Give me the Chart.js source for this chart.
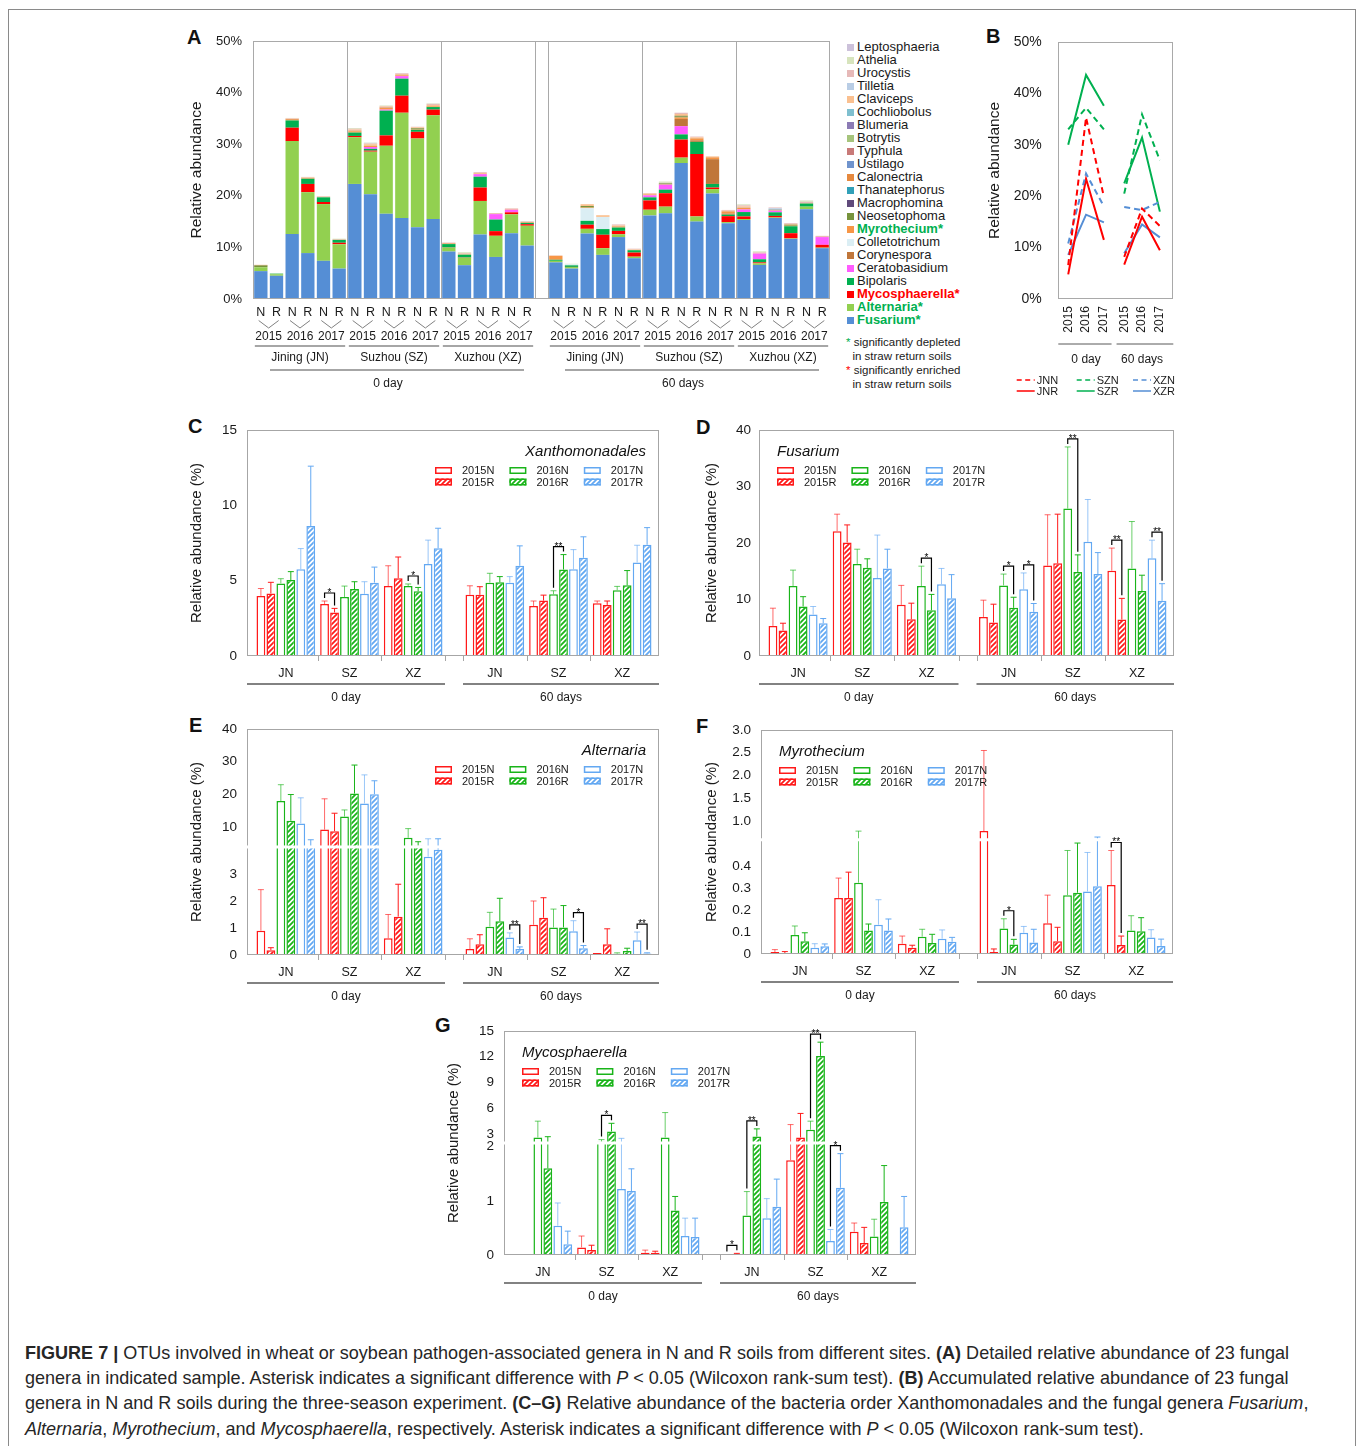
<!DOCTYPE html>
<html>
<head>
<meta charset="utf-8">
<title>Figure 7</title>
<script src="https://cdn.jsdelivr.net/npm/chart.js@4.4.1/dist/chart.umd.min.js"></script>
<style>
  html, body { margin: 0; padding: 0; background: #fff; }
  body { width: 1358px; height: 1446px; position: relative; overflow: hidden;
         font-family: "Liberation Sans", Arial, sans-serif; color: #1a1a1a; }
  canvas { position: absolute; }
  .frame { position: absolute; left: 8px; top: 9px; width: 1348px; height: 1500px; box-sizing: border-box; border: 1px solid #8a8a8a; }
  .letter { position: absolute; font-size: 20px; font-weight: bold; line-height: 20px; color: #111; }
  #legendA { position: absolute; left: 847px; top: 39.5px; font-size: 13px; line-height: 13px; }
  #legendA div { height: 13px; white-space: nowrap; }
  #legendA i { display: inline-block; width: 7px; height: 7px; margin-right: 3px; }
  .note { position: absolute; left: 846px; top: 335px; font-size: 11.5px; line-height: 14px; white-space: nowrap; }
  .caption { position: absolute; left: 25px; top: 1340px; font-size: 19px; line-height: 25.2px; color: #262626; }
  .caption div { white-space: nowrap; width: max-content; transform-origin: 0 50%; }
</style>
</head>
<body>
<div class="frame"></div>

<div class="letter" style="left:187px;top:27px">A</div>
<div class="letter" style="left:986px;top:26px">B</div>
<div class="letter" style="left:188px;top:416px">C</div>
<div class="letter" style="left:696px;top:417px">D</div>
<div class="letter" style="left:189px;top:715px">E</div>
<div class="letter" style="left:696px;top:716px">F</div>
<div class="letter" style="left:435px;top:1015px">G</div>

<canvas id="chartA" width="660" height="375" style="left:180px;top:25px"></canvas>
<canvas id="chartB" width="200" height="375" style="left:980px;top:25px"></canvas>
<canvas id="chartC" width="493" height="310" style="left:176px;top:410px"></canvas>
<canvas id="chartD" width="496" height="310" style="left:688px;top:410px"></canvas>
<canvas id="chartE" width="493" height="310" style="left:176px;top:709px"></canvas>
<canvas id="chartF" width="493" height="308" style="left:690px;top:710px"></canvas>
<canvas id="chartG" width="493" height="308" style="left:433px;top:1011px"></canvas>

<div id="legendA"></div>
<div class="note">
  <span style="color:#00b050">*</span> significantly depleted<br>
  &nbsp;&nbsp;in straw return soils<br>
  <span style="color:#ff0000">*</span> significantly enriched<br>
  &nbsp;&nbsp;in straw return soils
</div>

<div class="caption">
  <div><b>FIGURE 7 |</b> OTUs involved in wheat or soybean pathogen-associated genera in N and R soils from different sites. <b>(A)</b> Detailed relative abundance of 23 fungal</div>
  <div>genera in indicated sample. Asterisk indicates a significant difference with <i>P</i> &lt; 0.05 (Wilcoxon rank-sum test). <b>(B)</b> Accumulated relative abundance of 23 fungal</div>
  <div>genera in N and R soils during the three-season experiment. <b>(C–G)</b> Relative abundance of the bacteria order Xanthomonadales and the fungal genera <i>Fusarium</i>,</div>
  <div><i>Alternaria</i>, <i>Myrothecium</i>, and <i>Mycosphaerella</i>, respectively. Asterisk indicates a significant difference with <i>P</i> &lt; 0.05 (Wilcoxon rank-sum test).</div>
</div>

<script>
// ---------- shared labels ----------
const days = ['0 day', '60 days'];
const sitesLong = ['Jining (JN)', 'Suzhou (SZ)', 'Xuzhou (XZ)'];
const sitesShort = ['JN', 'SZ', 'XZ'];
const years = ['2015', '2016', '2017'];
const treatments = ['N', 'R'];
const pctTicks = [0, 10, 20, 30, 40, 50];

// ---------- panel A: 36 samples (0 day then 60 days; JN, SZ, XZ; 2015-2017; N, R) ----------
const fusarium = [5.4,4.5,12.6,8.9,7.4,5.9, 22.3,20.3,16.5,15.7,13.9,15.5, 9.2,6.55,12.5,8.15,12.75,10.35,
                  7.1,5.9,12.7,8.55,12.0,7.9, 16.2,16.6,26.35,15.0,20.45,14.7, 15.3,6.6,15.7,11.65,17.4,9.85];
const alternaria = [0.75,0.3,18.0,11.8,11.0,4.7, 9.05,8.25,13.2,20.4,17.2,20.1, 0.75,1.45,6.5,4.1,3.65,3.85,
                    0.3,0.3,0.9,1.3,0.55,0.3, 1.1,1.3,1.05,1.0,0.85,0.2, 0.2,0.3,0.1,0.1,0.5,0.1];
const mycosphaerella = [0,0,2.6,1.6,0.4,0.3, 0.25,0.2,2.0,3.3,1.3,1.1, 0.04,0.04,2.6,0.9,0.4,0.3,
                        0,0.02,0.8,2.6,0.65,0.8, 1.8,2.6,3.5,12.1,0.3,1.15, 0.5,0.2,0.3,1.0,0,0.55];
const bipolaris = [0,0.1,1.4,1.0,0.9,0.55, 0.65,0.35,4.8,3.3,0.4,0.5, 0.65,0.55,2.1,2.25,0,0.25,
                   0.2,0.3,0.75,1.1,0.65,0.45, 0.6,0.7,1.0,2.35,0.7,0.3, 0.85,0.6,0.7,1.35,0.6,0];
const ceratobasidium = [0,0,0,0,0,0, 0,0.35,0.2,0.5,0,0, 0,0,0.5,1.05,0.5,0,
                        0,0,0,0,0,0, 0.4,0.95,1.6,0,0,0, 0.5,1.1,0.3,0,0,1.5];
const corynespora = [0,0,0,0,0,0, 0,0,0,0,0,0, 0,0,0,0,0,0,
                     0,0,0,0,0,0, 0,0,1.4,0.3,4.8,0.2, 0,0,0,0,0,0];
const colletotrichum = [0,0,0,0,0,0, 0,0,0,0,0,0, 0,0,0,0,0,0,
                        0,0.2,2.45,2.35,0,0, 0,0,0,0,0,0, 0,0,0,0,0,0];
const myrothecium = [0.01,0,0.09,0.06,0.03,0.04, 0.26,0.26,0.33,0.11,0.13,0.11, 0.05,0.03,0.08,0.05,0.07,0.06,
                     0.78,0.01,0.12,0.04,0.1,0.05, 0.14,0.06,0.27,0.28,0.29,0.31, 0.32,0.04,0.11,0.1,0.08,0.04];
const neosetophoma = [0.35,0,0,0,0,0, 0,0,0,0,0.15,0, 0,0,0,0,0,0,
                      0,0,0.3,0,0,0, 0,0.2,0.25,0,0,0, 0,0,0,0.2,0,0];
const macrophomina = [0,0,0,0,0,0, 0,0,0.03,0,0,0, 0,0,0,0,0,0,
                      0,0,0,0,0,0, 0,0,0.05,0,0,0, 0,0,0,0,0,0];
const thanatephorus = [0,0,0,0,0,0, 0,0,0,0,0,0, 0,0,0,0,0,0,
                       0,0,0,0,0,0, 0,0,0,0,0,0, 0,0,0.1,0,0,0];
const calonectria = [0.1,0,0.15,0.1,0,0, 0.1,0,0.05,0.1,0.05,0.1, 0.1,0,0,0,0,0.1,
                     0,0,0,0,0.1,0, 0.05,0,0.1,0.1,0.1,0.1, 0,0,0,0,0,0];
const ustilago = [0,0,0,0,0,0, 0.03,0,0,0,0,0, 0,0,0,0,0,0,
                  0,0,0,0,0,0, 0,0,0,0,0,0, 0.03,0,0,0,0,0];
const typhula = [0,0,0,0,0,0, 0,0,0,0.03,0,0, 0,0,0,0,0,0,
                 0,0,0,0,0,0, 0,0,0,0,0,0, 0,0,0,0,0,0];
const botrytis = [0,0,0,0,0,0, 0,0.03,0,0,0,0, 0,0,0,0,0,0,
                  0,0,0,0,0,0, 0,0,0.05,0,0,0, 0,0,0,0,0,0];
const blumeria = [0,0,0,0,0,0, 0,0,0,0,0,0, 0,0,0,0,0,0,
                  0,0,0,0,0,0, 0,0,0,0,0,0, 0,0,0.03,0,0,0];
const cochliobolus = [0,0,0,0,0,0, 0,0,0,0,0,0, 0,0,0,0,0,0,
                      0,0,0,0,0,0, 0,0,0.03,0,0,0, 0,0,0,0,0,0];
const claviceps = [0,0,0.1,0.1,0.1,0, 0.2,0.25,0.2,0.15,0.15,0.2, 0,0.15,0.15,0,0.1,0,
                   0,0,0.35,0.3,0.2,0.1, 0.15,0,0.2,0.2,0.15,0.15, 0.25,0,0.1,0.15,0,0];
const tilletia = [0,0,0,0,0,0, 0,0,0,0,0,0, 0,0,0,0,0,0,
                  0,0,0,0,0,0, 0,0,0,0,0,0, 0,0,0.15,0,0,0];
const urocystis = [0,0,0.1,0.1,0.1,0.1, 0.15,0.15,0.1,0.15,0.1,0.2, 0.15,0.15,0.15,0.15,0.1,0.1,
                   0.05,0,0,0,0.2,0.15, 0.1,0.1,0.25,0.15,0,0.15, 0.2,0.2,0.15,0.15,0.25,0.2];
const athelia = [0,0.1,0.05,0,0,0.1, 0.15,0.15,0.1,0,0,0.1, 0,0.15,0,0,0,0.1,
                 0,0.1,0,0,0,0, 0,0.25,0,0,0,0, 0.2,0.2,0,0,0.25,0];
const leptosphaeria = [0,0,0,0,0,0, 0,0.03,0,0,0,0, 0,0,0,0,0,0,
                       0,0,0,0,0,0, 0,0,0,0,0,0, 0,0,0,0,0.03,0];

// stacking order, bottom to top
const generaA = ['Fusarium','Alternaria','Mycosphaerella','Bipolaris','Ceratobasidium','Corynespora',
  'Colletotrichum','Myrothecium','Neosetophoma','Macrophomina','Thanatephorus','Calonectria','Ustilago',
  'Typhula','Botrytis','Blumeria','Cochliobolus','Claviceps','Tilletia','Urocystis','Athelia','Leptosphaeria'];
const valuesA = [fusarium, alternaria, mycosphaerella, bipolaris, ceratobasidium, corynespora,
  colletotrichum, myrothecium, neosetophoma, macrophomina, thanatephorus, calonectria, ustilago,
  typhula, botrytis, blumeria, cochliobolus, claviceps, tilletia, urocystis, athelia, leptosphaeria];
const colorsA = ['#558ed5','#92d050','#ff0000','#00b050','#ff5cff','#c0763a',
  '#dbeef4','#f79646','#77933c','#604a7b','#31a0b8','#e6893e','#7094cd',
  '#c87a78','#a6c47c','#8c7bb5','#7fbfcf','#fac090','#b9cde5','#e6b9b8','#d7e4bd','#ccc1da'];
const depletedA = ['Myrothecium', 'Alternaria', 'Fusarium'];
const enrichedA = ['Mycosphaerella'];

// ---------- panel B: accumulated abundance (0 day 2015-2017, 60 days 2015-2017) ----------
const jnnB = [6.6, 35.3, 19.9, 8.2, 17.6, 14.2];
const jnrB = [4.8, 23.4, 11.5, 6.7, 16.0, 9.5];
const sznB = [33.0, 37.2, 33.0, 20.5, 35.9, 27.0];
const szrB = [30.0, 43.6, 37.6, 22.5, 31.4, 17.0];
const xznB = [10.8, 24.4, 18.0, 17.9, 17.3, 18.9];
const xzrB = [8.6, 16.4, 14.9, 8.9, 14.5, 12.0];

// ---------- panels C-G: rows = 2015N, 2015R, 2016N, 2016R, 2017N, 2017R ----------
// columns = 0 day JN, SZ, XZ, 60 days JN, SZ, XZ ; errors are upper whisker ends
const seriesNames = ['2015N', '2015R', '2016N', '2016R', '2017N', '2017R'];

const xanMeans = [[3.99,3.45,4.64,4.06,3.32,3.5],[4.15,2.89,5.16,4.06,3.68,3.39],[4.82,3.92,4.64,4.87,4.1,4.37],
                  [5.04,4.44,4.3,4.89,5.74,4.69],[5.76,4.13,6.1,4.87,5.76,6.21],[8.63,4.87,7.15,5.99,6.52,7.38]];
const xanErrs  = [[4.48,3.65,5.99,4.66,3.65,3.65],[4.89,3.16,6.57,4.6,4.04,3.65],[5.13,4.64,4.78,5.49,4.33,4.62],
                  [5.6,4.93,4.55,5.27,6.73,5.67],[7.13,4.93,7.69,5.27,7.06,7.35],[12.6,5.9,8.48,7.31,7.91,8.52]];
const xanSig = [[1,0,1,'*'],[2,2,3,'*'],[4,2,3,'**']];

const fusMeans = [[5.33,22.1,9.05,6.92,16.0,15.1],[4.5,20.1,6.5,5.92,16.4,6.45],[12.4,16.3,12.4,12.5,26.1,15.5],
                  [8.76,15.6,8.1,8.52,14.85,11.5],[7.34,13.8,12.7,11.8,20.2,17.3],[5.8,15.5,10.2,7.81,14.5,9.76]];
const fusErrs  = [[8.46,25.1,12.5,9.88,25.0,19.1],[5.8,23.2,9.35,9.17,25.1,10.2],[15.2,18.9,15.9,14.5,37.0,23.8],
                  [10.5,17.2,10.9,10.4,17.9,14.3],[8.76,21.4,15.5,14.7,27.7,20.5],[6.63,18.9,14.4,9.29,18.3,12.8]];
const fusSig = [[2,2,3,'*'],[3,2,3,'*'],[3,4,5,'*'],[4,2,3,'**'],[5,0,1,'**'],[5,4,5,'**']];

const altMeans = [[0.9,9.3,0.62,0.22,1.12,0.07],[0.18,8.8,1.42,0.4,1.38,0.4],[18.0,13.3,6.8,1.05,1.02,0.05],
                  [12.0,20.3,4.4,1.25,1.02,0.15],[11.2,17.3,3.64,0.65,0.88,0.55],[4.3,20.1,3.9,0.22,0.25,0.06]];
const altErrs  = [[2.42,18.7,1.5,0.6,2.0,0.08],[0.27,14.3,2.62,0.75,2.12,0.97],[23.0,15.3,9.6,1.58,1.7,0.08],
                  [20.0,29.0,5.6,2.1,1.83,0.25],[19.0,26.0,6.5,0.82,1.27,0.85],[6.2,24.2,6.5,0.3,0.35,0.08]];
const altSig = [[3,4,5,'**'],[4,4,5,'*'],[5,4,5,'**']];

const myrMeans = [[0.009,0.256,0.047,0.78,0.14,0.315],[0.003,0.256,0.029,0.009,0.058,0.041],[0.087,0.326,0.079,0.116,0.269,0.107],
                  [0.058,0.107,0.05,0.043,0.28,0.104],[0.029,0.134,0.07,0.097,0.286,0.075],[0.035,0.107,0.056,0.052,0.31,0.037]];
const myrErrs  = [[0.02,0.347,0.082,2.55,0.269,0.473],[0.011,0.374,0.04,0.023,0.122,0.082],[0.128,0.78,0.113,0.161,0.473,0.175],
                  [0.097,0.137,0.09,0.067,0.507,0.166],[0.047,0.248,0.11,0.126,0.464,0.111],[0.046,0.16,0.076,0.113,0.65,0.068]];
const myrSig = [[3,2,3,'*'],[5,0,1,'**']];

const mycMeans = [[0.005,0.14,0.04,0.005,1.75,0.43],[0.003,0.09,0.04,0.02,2.6,0.22],[2.6,2.1,2.6,0.73,3.5,0.34],
                  [1.6,3.3,0.82,2.7,12.1,0.98],[0.54,1.22,0.35,0.68,0.26,0.01],[0.2,1.18,0.33,0.89,1.24,0.51]];
const mycErrs  = [[0.01,0.35,0.09,0.01,4.1,0.59],[0.005,0.18,0.07,0.03,5.4,0.51],[4.5,2.35,5.5,1.17,4.5,0.66],
                  [2.69,4.25,1.08,3.6,13.7,1.65],[0.96,2.5,0.68,1.04,0.47,0.01],[0.44,1.59,0.68,1.4,1.87,1.08]];
const mycSig = [[1,2,3,'*'],[3,0,1,'*'],[3,2,3,'**'],[4,2,3,'**'],[4,4,5,'*']];

// y tick values and labels
const xanTicks = [0, 5, 10, 15];
const fusTicks = [0, 10, 20, 30, 40];
const altTicks = [0, 1, 2, 3, 10, 20, 30, 40];
const myrTicks = [0, 0.1, 0.2, 0.3, 0.4, 1.0, 1.5, 2.0, 2.5, 3.0];
const mycTicks = [0, 1, 2, 3, 6, 9, 12, 15];

// ---------- styling ----------
const FONT = '"Liberation Sans", Arial, sans-serif';
Chart.defaults.font.family = FONT;
Chart.defaults.color = '#1a1a1a';
const seriesColors = ['#ff1a1a', '#19b419', '#63a8f2'];

// category scale with an extra gap between the two halves (0 day | 60 days)
class GapCategoryScale extends Chart.CategoryScale {
  static id = 'gapcat';
  static defaults = {};
  _inner() {
    const o = this.options;
    return this._length - (o.padL || 0) - (o.padR || 0) - (o.gapPx || 0);
  }
  getPixelForDecimal(d) {
    const o = this.options;
    return this._startPixel + (o.padL || 0) + d * this._inner() + (d > 0.5 + 1e-9 ? (o.gapPx || 0) : 0);
  }
  getDecimalForPixel(p) {
    const o = this.options, inner = this._inner();
    let r = p - this._startPixel - (o.padL || 0);
    if (r > inner / 2 + (o.gapPx || 0)) r -= (o.gapPx || 0);
    else if (r > inner / 2) r = inner / 2;
    return r / inner;
  }
}

// linear scale with a broken (piecewise) axis
class BrokenLinearScale extends Chart.LinearScale {
  static id = 'brokenLinear';
  static defaults = {};
  buildTicks() {
    return this.options.tickValues.map(v => ({ value: v }));
  }
  _frac(v) {
    const segs = this.options.segments;
    let s = segs[0];
    for (const seg of segs) if (v >= seg.v0) s = seg;
    return s.f0 + (v - s.v0) / (s.v1 - s.v0) * (s.f1 - s.f0);
  }
  getPixelForValue(v) {
    return v === null || isNaN(v) ? NaN : this.getPixelForDecimal(this._frac(v));
  }
  getValueForPixel(p) {
    const f = this.getDecimalForPixel(p), segs = this.options.segments;
    let s = segs[0];
    for (const seg of segs) if (f >= seg.f0) s = seg;
    return s.v0 + (f - s.f0) / (s.f1 - s.f0) * (s.v1 - s.v0);
  }
}
Chart.register(GapCategoryScale, BrokenLinearScale);

function hatch(color) {
  const c = document.createElement('canvas');
  c.width = c.height = 5;
  const g = c.getContext('2d');
  g.fillStyle = '#fff';
  g.fillRect(0, 0, 5, 5);
  g.strokeStyle = color;
  g.lineWidth = 1.8;
  g.beginPath();
  g.moveTo(0, 5); g.lineTo(5, 0);
  g.moveTo(-1, 1); g.lineTo(1, -1);
  g.moveTo(4, 6); g.lineTo(6, 4);
  g.stroke();
  return g.createPattern(c, 'repeat');
}

function fade(hex, a) {
  const n = parseInt(hex.slice(1), 16);
  return `rgba(${n >> 16},${(n >> 8) & 255},${n & 255},${a})`;
}

// ---------- panel A ----------
const aDecor = {
  id: 'aDecor',
  afterDatasetsDraw(chart) {
    const { ctx, chartArea: a, scales: { x } } = chart;
    const px = i => x.getPixelForValue(i);
    const half = (px(1) - px(0)) / 2;
    const b = a.bottom;
    ctx.save();
    ctx.strokeStyle = '#a9a9a9';
    ctx.lineWidth = 1;
    ctx.strokeRect(Math.round(a.left) + 0.5, Math.round(a.top) + 0.5, Math.round(a.width) - 1, Math.round(a.height) - 1);
    const vline = xx => {
      ctx.beginPath();
      ctx.moveTo(Math.round(xx) + 0.5, a.top);
      ctx.lineTo(Math.round(xx) + 0.5, a.bottom);
      ctx.stroke();
    };
    [6, 12, 24, 30].forEach(i => vline((px(i - 1) + px(i)) / 2));
    vline(px(17) + half);
    vline(px(18) - half);

    ctx.fillStyle = '#1a1a1a';
    ctx.textAlign = 'center';
    ctx.textBaseline = 'middle';
    ctx.font = '12px ' + FONT;
    for (let p = 0; p < 18; p++) {
      const m = (px(2 * p) + px(2 * p + 1)) / 2;
      ctx.strokeStyle = '#808080';
      ctx.lineWidth = 1;
      ctx.beginPath();
      ctx.moveTo(m - 10, b + 21.5); ctx.lineTo(m, b + 29); ctx.lineTo(m + 10, b + 21.5);
      ctx.stroke();
      ctx.fillText(years[p % 3], m, b + 37.5);
    }
    ctx.strokeStyle = '#a6a6a6';
    ctx.lineWidth = 2;
    for (let s = 0; s < 6; s++) {
      const x0 = px(s * 6), x1 = px(s * 6 + 5);
      ctx.beginPath(); ctx.moveTo(x0 - 6, b + 47); ctx.lineTo(x1 + 6, b + 47); ctx.stroke();
      ctx.fillText(sitesLong[s % 3], (x0 + x1) / 2, b + 59);
    }
    for (let d = 0; d < 2; d++) {
      const c0 = (px(d * 18) + px(d * 18 + 5)) / 2, c2 = (px(d * 18 + 12) + px(d * 18 + 17)) / 2;
      ctx.beginPath(); ctx.moveTo(c0 - 30, b + 71); ctx.lineTo(c2 + 36, b + 71); ctx.stroke();
      ctx.fillText(days[d], (c0 + c2) / 2 - 6, b + 85);
    }
    ctx.restore();
  }
};

const labelsA = [];
days.forEach(() => sitesShort.forEach(() => years.forEach(() => treatments.forEach(t => labelsA.push(t)))));

new Chart(document.getElementById('chartA'), {
  type: 'bar',
  data: {
    labels: labelsA,
    datasets: generaA.map((g, k) => ({
      label: g, data: valuesA[k], backgroundColor: colorsA[k],
      borderWidth: 0, barPercentage: 0.85, categoryPercentage: 1
    }))
  },
  options: {
    responsive: false, animation: false,
    layout: { padding: { left: 0, top: 16, right: 10, bottom: 0 } },
    scales: {
      x: {
        type: 'gapcat', stacked: true, offset: true, gapPx: 13,
        grid: { display: false, drawTicks: false }, border: { display: false },
        ticks: { autoSkip: false, maxRotation: 0, font: { size: 12.5 }, padding: 6.5 },
        afterFit: s => { s.height = 101; s.paddingLeft = 0; s.paddingRight = 0; }
      },
      y: {
        stacked: true, min: 0, max: 50,
        grid: { display: false, drawTicks: false }, border: { display: false },
        afterBuildTicks: s => { s.ticks = pctTicks.map(v => ({ value: v })); },
        ticks: { font: { size: 13 }, padding: 11, callback: v => v + '%' },
        title: { display: true, text: 'Relative abundance', font: { size: 15.5 }, padding: { top: 7.7 } },
        afterFit: s => { s.width = 73; s.paddingTop = 0; s.paddingBottom = 0; }
      }
    },
    plugins: { legend: { display: false }, tooltip: { enabled: false } }
  },
  plugins: [aDecor]
});

// HTML legend for panel A (top = last stacked genus)
const legendA = document.getElementById('legendA');
generaA.slice().reverse().forEach(g => {
  const k = generaA.indexOf(g);
  const row = document.createElement('div');
  const sw = document.createElement('i');
  sw.style.background = colorsA[k];
  row.appendChild(sw);
  const t = document.createElement('span');
  if (depletedA.includes(g) || enrichedA.includes(g)) {
    t.textContent = g + '*';
    t.style.fontWeight = 'bold';
    t.style.color = depletedA.includes(g) ? '#00b050' : '#ff0000';
  } else {
    t.textContent = g;
  }
  row.appendChild(t);
  legendA.appendChild(row);
});

// ---------- panel B ----------
const linesB = [
  { label: 'JNN', data: jnnB, color: '#ff0000', dashed: true },
  { label: 'SZN', data: sznB, color: '#00b050', dashed: true },
  { label: 'XZN', data: xznB, color: '#558ed5', dashed: true },
  { label: 'JNR', data: jnrB, color: '#ff0000', dashed: false },
  { label: 'SZR', data: szrB, color: '#00b050', dashed: false },
  { label: 'XZR', data: xzrB, color: '#558ed5', dashed: false }
];

const bDecor = {
  id: 'bDecor',
  afterDatasetsDraw(chart) {
    const { ctx, chartArea: a, scales: { x } } = chart;
    const px = i => x.getPixelForValue(i);
    const b = a.bottom;
    const mid = (px(2) + px(3)) / 2;
    ctx.save();
    ctx.strokeStyle = '#a9a9a9';
    ctx.lineWidth = 1;
    ctx.strokeRect(Math.round(a.left) + 0.5, Math.round(a.top) + 0.5, Math.round(a.width) - 1, Math.round(a.height) - 1);
    ctx.strokeStyle = '#595959';
    ctx.lineWidth = 1;
    ctx.beginPath(); ctx.moveTo(a.left, b + 45); ctx.lineTo(mid - 2.5, b + 45); ctx.stroke();
    ctx.beginPath(); ctx.moveTo(mid + 2.5, b + 45); ctx.lineTo(a.right, b + 45); ctx.stroke();
    ctx.fillStyle = '#1a1a1a';
    ctx.font = '12px ' + FONT;
    ctx.textAlign = 'center';
    ctx.textBaseline = 'middle';
    ctx.fillText(days[0], px(1), b + 61);
    ctx.fillText(days[1], px(4), b + 61);
    // legend
    ctx.font = '11px ' + FONT;
    ctx.textAlign = 'left';
    const cols = [36.7, 96.7, 153];
    linesB.forEach((s, k) => {
      const cx = cols[k % 3], cy = b + (k < 3 ? 81 : 92);
      ctx.strokeStyle = s.color;
      ctx.lineWidth = 1.5;
      ctx.setLineDash(s.dashed ? [5, 3.5] : []);
      ctx.beginPath(); ctx.moveTo(cx, cy); ctx.lineTo(cx + 18, cy); ctx.stroke();
      ctx.setLineDash([]);
      ctx.fillText(s.label, cx + 20, cy + 0.5);
    });
    ctx.restore();
  }
};

const labelsB = [];
days.forEach(() => years.forEach(y => labelsB.push(y)));

new Chart(document.getElementById('chartB'), {
  type: 'line',
  data: {
    labels: labelsB,
    datasets: linesB.map(s => ({
      label: s.label, data: s.data, borderColor: s.color, borderWidth: 2,
      borderDash: s.dashed ? [6, 4] : [], pointRadius: 0, tension: 0, fill: false,
      segment: { borderColor: c => c.p0DataIndex === 2 ? 'rgba(0,0,0,0)' : undefined }
    }))
  },
  options: {
    responsive: false, animation: false,
    layout: { padding: { left: 0, top: 17, right: 6.7, bottom: 0 } },
    scales: {
      x: {
        type: 'gapcat', offset: true, padL: 1, padR: 4.5, gapPx: 2.5,
        grid: { display: false, drawTicks: false }, border: { display: false },
        ticks: { autoSkip: false, minRotation: 90, maxRotation: 90, font: { size: 12 }, padding: 7 },
        afterFit: s => { s.height = 101; s.paddingLeft = 0; s.paddingRight = 0; }
      },
      y: {
        min: 0, max: 50,
        grid: { display: false, drawTicks: false }, border: { display: false },
        afterBuildTicks: s => { s.ticks = pctTicks.map(v => ({ value: v })); },
        ticks: { font: { size: 14 }, padding: 16.6, callback: v => v + '%' },
        title: { display: true, text: 'Relative abundance', font: { size: 15.5 }, padding: { top: 5.7 } },
        afterFit: s => { s.width = 78.3; s.paddingTop = 0; s.paddingBottom = 0; }
      }
    },
    plugins: { legend: { display: false }, tooltip: { enabled: false } }
  },
  plugins: [bDecor]
});

// ---------- panels C-G ----------
const groupDecor = {
  id: 'groupDecor',
  afterDatasetsDraw(chart, args, o) {
    const { ctx, chartArea: a, scales: { x, y } } = chart;
    const px = i => x.getPixelForValue(i);
    const half = (px(1) - px(0)) / 2;
    const b = a.bottom;
    const dsets = chart.data.datasets;
    ctx.save();
    // error bars (upper whisker)
    dsets.forEach((ds, di) => {
      chart.getDatasetMeta(di).data.forEach((bar, i) => {
        const top = y.getPixelForValue(ds.errHi[i]);
        if (!(top < bar.y - 0.5)) return;
        ctx.strokeStyle = ds.errColor;
        ctx.lineWidth = 1;
        ctx.beginPath();
        ctx.moveTo(bar.x, bar.y); ctx.lineTo(bar.x, top);
        ctx.moveTo(bar.x - 3, top); ctx.lineTo(bar.x + 3, top);
        ctx.stroke();
      });
    });
    // frame
    ctx.strokeStyle = '#a6a6a6';
    ctx.lineWidth = 1;
    ctx.strokeRect(Math.round(a.left) + 0.5, Math.round(a.top) + 0.5, Math.round(a.width) - 1, Math.round(a.height) - 1);
    // axis break
    if (o.breakFrac) {
      const yb = a.bottom - o.breakFrac * a.height;
      ctx.fillStyle = '#fff';
      ctx.fillRect(a.left - 4, yb - 1.5, a.width + 2.5, 3);
    }
    // significance brackets
    ctx.strokeStyle = '#000';
    ctx.fillStyle = '#000';
    ctx.lineWidth = 1.2;
    ctx.font = '10px ' + FONT;
    ctx.textAlign = 'center';
    ctx.textBaseline = 'alphabetic';
    (o.sig || []).forEach(([cat, sa, sb, lab]) => {
      const ba = chart.getDatasetMeta(sa).data[cat], bb = chart.getDatasetMeta(sb).data[cat];
      const ta = y.getPixelForValue(dsets[sa].errHi[cat]), tb = y.getPixelForValue(dsets[sb].errHi[cat]);
      const yb = Math.min(ta, tb) - 8;
      ctx.beginPath();
      ctx.moveTo(ba.x, ta - 3); ctx.lineTo(ba.x, yb); ctx.lineTo(bb.x, yb); ctx.lineTo(bb.x, tb - 3);
      ctx.stroke();
      ctx.fillText(lab, (ba.x + bb.x) / 2, yb + 3);
    });
    // group tick marks
    ctx.strokeStyle = '#a6a6a6';
    ctx.lineWidth = 1;
    [px(0) + half, px(1) + half, px(2) + half, px(3) - half, px(3) + half, px(4) + half].forEach(t => {
      ctx.beginPath();
      ctx.moveTo(Math.round(t) + 0.5, b); ctx.lineTo(Math.round(t) + 0.5, b + 5);
      ctx.stroke();
    });
    // day lines
    ctx.strokeStyle = '#595959';
    ctx.lineWidth = 1.3;
    ctx.fillStyle = '#1a1a1a';
    ctx.font = '12px ' + FONT;
    ctx.textBaseline = 'middle';
    [[a.left, px(2) + half], [px(3) - half, a.right]].forEach(([l, r], d) => {
      ctx.beginPath(); ctx.moveTo(l, b + 28); ctx.lineTo(r, b + 28); ctx.stroke();
      ctx.fillText(days[d], (l + r) / 2, b + 42);
    });
    // title and legend
    const x0 = o.side === 'right' ? a.right - 224 : a.left + 18;
    ctx.font = 'italic 15px ' + FONT;
    ctx.fillStyle = '#111';
    ctx.textBaseline = 'alphabetic';
    ctx.textAlign = o.side === 'right' ? 'right' : 'left';
    ctx.fillText(o.title, o.side === 'right' ? a.right - 13 : x0, a.top + 26);
    ctx.font = '11px ' + FONT;
    ctx.textAlign = 'left';
    ctx.textBaseline = 'middle';
    dsets.forEach((ds, k) => {
      const bx = x0 + Math.floor(k / 2) * 74.4, by = a.top + 40.5 + (k % 2) * 11.5;
      ctx.fillStyle = ds.backgroundColor;
      ctx.fillRect(bx, by - 3.5, 17, 7);
      ctx.strokeStyle = ds.borderColor;
      ctx.lineWidth = 1.5;
      ctx.strokeRect(bx + 0.75, by - 2.75, 15.5, 5.5);
      ctx.fillStyle = '#1a1a1a';
      ctx.fillText(ds.label, bx + 27, by + 0.5);
    });
    ctx.restore();
  }
};

const groupLabels = [...sitesShort, ...sitesShort];

function groupPanel(id, cfg) {
  const datasets = seriesNames.map((name, k) => {
    const col = seriesColors[Math.floor(k / 2)];
    const isR = name.endsWith('R');
    return {
      label: name, data: cfg.means[k], errHi: cfg.errs[k],
      backgroundColor: isR ? hatch(col) : '#ffffff',
      borderColor: col, borderWidth: 1.5, borderSkipped: 'bottom',
      errColor: isR ? col : fade(col, 0.65),
      categoryPercentage: 0.94, barPercentage: 0.88
    };
  });
  return new Chart(document.getElementById(id), {
    type: 'bar',
    data: { labels: groupLabels, datasets },
    options: {
      responsive: false, animation: false,
      layout: { padding: { left: 0, top: 20, right: 10, bottom: 0 } },
      scales: {
        x: {
          type: 'gapcat', offset: true, padL: 7, padR: 5, gapPx: 18,
          grid: { display: false, drawTicks: false }, border: { display: false },
          ticks: { autoSkip: false, maxRotation: 0, font: { size: 12.5 }, padding: 9.8 },
          afterFit: s => { s.height = 64; s.paddingLeft = 0; s.paddingRight = 0; }
        },
        y: {
          type: 'brokenLinear', min: 0, max: cfg.ticks[cfg.ticks.length - 1],
          segments: cfg.segments, tickValues: cfg.ticks,
          grid: { display: false, drawTicks: false }, border: { display: false },
          ticks: { autoSkip: false, font: { size: 13.5 }, padding: cfg.tickPad || 10,
                   callback: (v, i) => cfg.tickText ? cfg.tickText[i] : String(v) },
          title: { display: true, text: 'Relative abundance (%)', font: { size: 15 }, padding: { top: cfg.titlePad || 12 } },
          afterFit: s => { s.width = 71; s.paddingTop = 0; s.paddingBottom = 0; }
        }
      },
      plugins: {
        legend: { display: false }, tooltip: { enabled: false },
        groupDecor: { title: cfg.title, sig: cfg.sig, side: cfg.side, breakFrac: cfg.breakFrac || 0 }
      }
    },
    plugins: [groupDecor]
  });
}

groupPanel('chartC', {
  title: 'Xanthomonadales', side: 'right', means: xanMeans, errs: xanErrs, sig: xanSig,
  ticks: xanTicks, segments: [{ v0: 0, v1: 15, f0: 0, f1: 1 }]
});
groupPanel('chartD', {
  title: 'Fusarium', side: 'left', means: fusMeans, errs: fusErrs, sig: fusSig,
  ticks: fusTicks, segments: [{ v0: 0, v1: 40, f0: 0, f1: 1 }], tickPad: 8, titlePad: 15
});
groupPanel('chartE', {
  title: 'Alternaria', side: 'right', means: altMeans, errs: altErrs, sig: altSig,
  ticks: altTicks, segments: [{ v0: 0, v1: 4, f0: 0, f1: 0.478 }, { v0: 4, v1: 40, f0: 0.478, f1: 1 }],
  breakFrac: 0.478
});
groupPanel('chartF', {
  title: 'Myrothecium', side: 'left', means: myrMeans, errs: myrErrs, sig: myrSig,
  ticks: myrTicks, tickText: myrTicks.map(v => v === 0 ? '0' : v.toFixed(1)),
  segments: [{ v0: 0, v1: 0.52, f0: 0, f1: 0.508 }, { v0: 0.6, v1: 3.0, f0: 0.512, f1: 1 }],
  breakFrac: 0.51, titlePad: 13
});
groupPanel('chartG', {
  title: 'Mycosphaerella', side: 'left', means: mycMeans, errs: mycErrs, sig: mycSig,
  ticks: mycTicks, segments: [{ v0: 0, v1: 2.05, f0: 0, f1: 0.496 }, { v0: 2.05, v1: 15, f0: 0.5036, f1: 1 }],
  breakFrac: 0.5
});

// caption: condensed face is not available, so squeeze each line to the figure's measure
const capLines = document.querySelectorAll('.caption div');
const capScale = 1264 / capLines[0].getBoundingClientRect().width;
capLines.forEach(el => { el.style.transform = 'scaleX(' + capScale + ')'; });
</script>
</body>
</html>
